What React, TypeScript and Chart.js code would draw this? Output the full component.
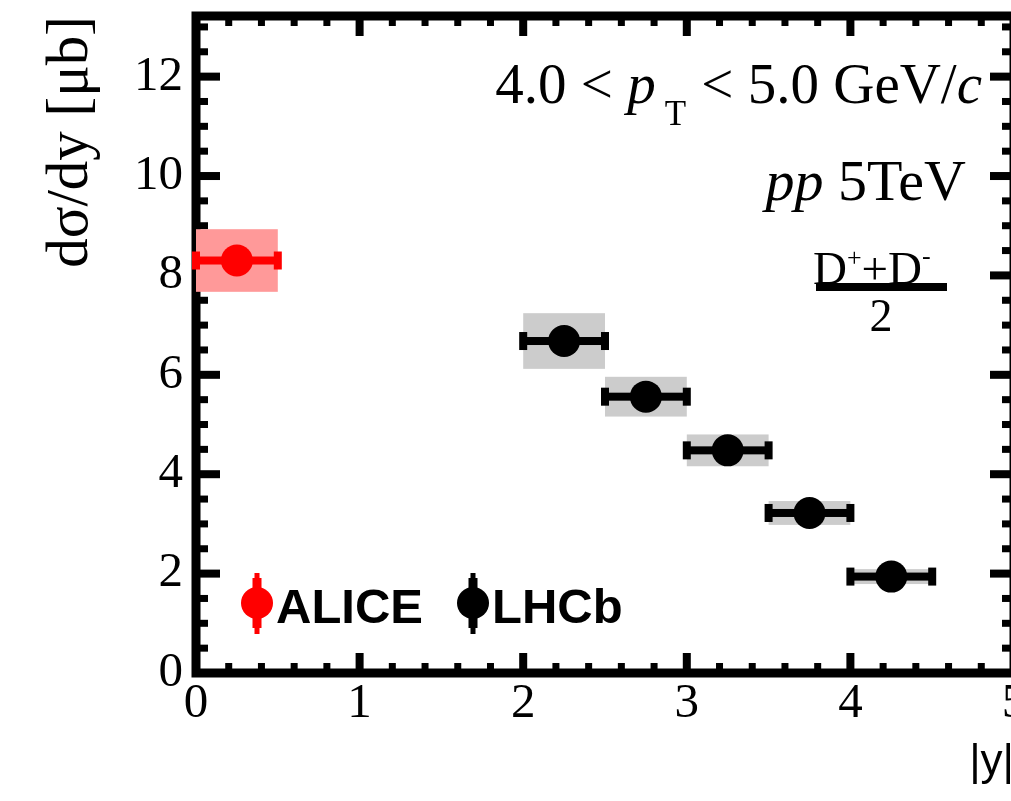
import { useEffect, useRef } from 'react';
import { Chart, registerables } from 'chart.js';

Chart.register(...registerables);

const SERIF = "'Liberation Serif', 'Times New Roman', serif";
const SANS = "'Liberation Sans', Arial, sans-serif";

// ---- data ----
const aliceRapidity = [0.25];
const aliceCrossSection = [8.3];
const aliceBinHalfWidth = [0.25];
const aliceSystErr = [0.63];

const lhcbRapidity = [2.25, 2.75, 3.25, 3.75, 4.25];
const lhcbCrossSection = [6.68, 5.56, 4.48, 3.22, 1.94];
const lhcbBinHalfWidth = [0.25, 0.25, 0.25, 0.25, 0.25];
const lhcbSystErr = [0.56, 0.4, 0.32, 0.24, 0.15];

const xMajorTicks = [0, 1, 2, 3, 4, 5];
const xMinorTicks = [0.2, 0.4, 0.6, 0.8, 1.2, 1.4, 1.6, 1.8, 2.2, 2.4, 2.6, 2.8, 3.2, 3.4, 3.6, 3.8, 4.2, 4.4, 4.6, 4.8];
const yMajorTicks = [0, 2, 4, 6, 8, 10, 12];
const yMinorTicks = [0.5, 1, 1.5, 2.5, 3, 3.5, 4.5, 5, 5.5, 6.5, 7, 7.5, 8.5, 9, 9.5, 10.5, 11, 11.5, 12.5, 13];

const X_MIN = 0;
const X_MAX = 5;
const Y_MIN = 0;
const Y_MAX = 13.22;

const ALICE_COLOR = '#ff0000';
const ALICE_BOX = '#ff9999';
const LHCB_COLOR = '#000000';
const LHCB_BOX = '#cccccc';

type Run = { text: string; font: string; dy?: number; gap?: number };

function drawRuns(ctx: CanvasRenderingContext2D, runs: Run[], x: number, baseline: number, align: 'left' | 'right') {
  let total = 0;
  const widths = runs.map((r) => {
    ctx.font = r.font;
    const w = ctx.measureText(r.text).width;
    total += w + (r.gap || 0);
    return w;
  });
  let cx = align === 'right' ? x - total : x;
  ctx.textAlign = 'left';
  ctx.textBaseline = 'alphabetic';
  runs.forEach((r, i) => {
    cx += r.gap || 0;
    ctx.font = r.font;
    ctx.fillText(r.text, cx, baseline + (r.dy || 0));
    cx += widths[i];
  });
}

export default function App() {
  const ref = useRef<HTMLCanvasElement>(null);

  useEffect(() => {
    const canvas = ref.current;
    if (!canvas) return;

    const series = [
      { xs: aliceRapidity, ys: aliceCrossSection, hw: aliceBinHalfWidth, sys: aliceSystErr, color: ALICE_COLOR, box: ALICE_BOX },
      { xs: lhcbRapidity, ys: lhcbCrossSection, hw: lhcbBinHalfWidth, sys: lhcbSystErr, color: LHCB_COLOR, box: LHCB_BOX },
    ];

    const hepPlugin = {
      id: 'hepDecor',
      beforeDatasetsDraw(chart: any) {
        const { ctx, chartArea: a, scales } = chart;
        const xs = scales.x;
        const ys = scales.y;
        ctx.save();
        // frame
        ctx.strokeStyle = '#000';
        ctx.lineWidth = 9;
        ctx.strokeRect(a.left, a.top, a.right - a.left, a.bottom - a.top);
        ctx.fillStyle = '#000';
        // y ticks (left & right, inward)
        yMajorTicks.forEach((v) => {
          const p = ys.getPixelForValue(v);
          ctx.fillRect(a.left, p - 4, 24, 8);
          ctx.fillRect(a.right - 24, p - 4, 24, 8);
        });
        yMinorTicks.forEach((v) => {
          const p = ys.getPixelForValue(v);
          ctx.fillRect(a.left, p - 3.5, 12, 7);
          ctx.fillRect(a.right - 12, p - 3.5, 12, 7);
        });
        // x ticks (bottom & top, inward)
        xMajorTicks.forEach((v) => {
          const p = xs.getPixelForValue(v);
          ctx.fillRect(p - 4, a.bottom - 20, 8, 20);
          ctx.fillRect(p - 4, a.top, 8, 20);
        });
        xMinorTicks.forEach((v) => {
          const p = xs.getPixelForValue(v);
          ctx.fillRect(p - 3.5, a.bottom - 10, 7, 10);
          ctx.fillRect(p - 3.5, a.top, 7, 10);
        });
        // systematic boxes
        series.forEach((s) => {
          ctx.fillStyle = s.box;
          s.xs.forEach((x, i) => {
            const l = xs.getPixelForValue(x - s.hw[i]);
            const r = xs.getPixelForValue(x + s.hw[i]);
            const t = ys.getPixelForValue(s.ys[i] + s.sys[i]);
            const b = ys.getPixelForValue(s.ys[i] - s.sys[i]);
            ctx.fillRect(l, t, r - l, b - t);
          });
        });
        // horizontal error bars with caps
        series.forEach((s) => {
          ctx.fillStyle = s.color;
          s.xs.forEach((x, i) => {
            const l = xs.getPixelForValue(x - s.hw[i]);
            const r = xs.getPixelForValue(x + s.hw[i]);
            const py = ys.getPixelForValue(s.ys[i]);
            ctx.fillRect(l, py - 4, r - l, 8);
            ctx.fillRect(l - 4, py - 9, 8, 18);
            ctx.fillRect(r - 4, py - 9, 8, 18);
          });
        });
        ctx.restore();
      },
      afterDatasetsDraw(chart: any) {
        const { ctx, chartArea: a } = chart;
        ctx.save();
        ctx.fillStyle = '#000';
        // kinematic label
        drawRuns(
          ctx,
          [
            { text: '4.0 < ', font: `57px ${SERIF}` },
            { text: 'p', font: `italic 57px ${SERIF}` },
            { text: 'T', font: `35px ${SERIF}`, dy: 22, gap: 9 },
            { text: ' < 5.0 GeV/', font: `57px ${SERIF}`, gap: 1 },
            { text: 'c', font: `italic 57px ${SERIF}` },
          ],
          982,
          103,
          'right'
        );
        drawRuns(
          ctx,
          [
            { text: 'pp', font: `italic 58px ${SERIF}` },
            { text: ' 5TeV', font: `58px ${SERIF}` },
          ],
          966,
          200,
          'right'
        );
        // (D+ + D-)/2
        drawRuns(
          ctx,
          [
            { text: 'D', font: `47px ${SERIF}` },
            { text: '+', font: `26px ${SERIF}`, dy: -18 },
            { text: '+', font: `47px ${SERIF}` },
            { text: 'D', font: `47px ${SERIF}` },
            { text: '-', font: `26px ${SERIF}`, dy: -20 },
          ],
          813,
          284,
          'left'
        );
        ctx.fillRect(816, 283, 131, 8);
        ctx.font = `46px ${SERIF}`;
        ctx.textAlign = 'center';
        ctx.fillText('2', 881, 331);

        // legend
        const legendItems = [
          { label: 'ALICE', color: ALICE_COLOR, x: a.left + 61 },
          { label: 'LHCb', color: LHCB_COLOR, x: a.left + 277 },
        ];
        const ly = a.bottom - 70;
        legendItems.forEach((it) => {
          ctx.fillStyle = it.color;
          ctx.fillRect(it.x - 2.5, ly - 30, 5, 61);
          ctx.fillRect(it.x - 4.5, ly - 25, 9, 50);
          ctx.beginPath();
          ctx.arc(it.x, ly, 16, 0, Math.PI * 2);
          ctx.fill();
          ctx.fillStyle = '#000';
          ctx.font = `bold 49px ${SANS}`;
          ctx.textAlign = 'left';
          ctx.textBaseline = 'alphabetic';
          ctx.fillText(it.label, it.x + 19, ly + 20);
        });
        ctx.restore();
      },
    };

    const chart = new Chart(canvas, {
      type: 'scatter',
      data: {
        datasets: [
          {
            label: 'ALICE',
            data: aliceRapidity.map((x, i) => ({ x, y: aliceCrossSection[i] })),
            backgroundColor: ALICE_COLOR,
            borderColor: ALICE_COLOR,
            borderWidth: 0,
            pointRadius: 16,
            pointHoverRadius: 16,
          },
          {
            label: 'LHCb',
            data: lhcbRapidity.map((x, i) => ({ x, y: lhcbCrossSection[i] })),
            backgroundColor: LHCB_COLOR,
            borderColor: LHCB_COLOR,
            borderWidth: 0,
            pointRadius: 16,
            pointHoverRadius: 16,
          },
        ],
      },
      options: {
        animation: false,
        responsive: false,
        events: [],
        layout: { padding: { left: 0, top: 16, right: 15, bottom: 0 } },
        plugins: { legend: { display: false }, tooltip: { enabled: false } },
        scales: {
          x: {
            type: 'linear',
            position: 'bottom',
            min: X_MIN,
            max: X_MAX,
            grid: { display: false, drawTicks: false, tickLength: 0 },
            border: { display: false },
            ticks: {
              stepSize: 1,
              includeBounds: false,
              autoSkip: false,
              maxRotation: 0,
              color: '#000',
              padding: 7,
              font: { family: SERIF, size: 49, lineHeight: 1 },
            },
            title: {
              display: true,
              text: '|y|',
              align: 'end',
              color: '#000',
              font: { family: SANS, size: 44, lineHeight: 1 },
              padding: { top: 0, bottom: 16 },
            },
            afterFit(s: any) {
              s.height = 128;
              s.paddingLeft = 0;
              s.paddingRight = 0;
            },
          },
          y: {
            type: 'linear',
            position: 'left',
            min: Y_MIN,
            max: Y_MAX,
            grid: { display: false, drawTicks: false, tickLength: 0 },
            border: { display: false },
            ticks: {
              stepSize: 2,
              includeBounds: false,
              autoSkip: false,
              color: '#000',
              padding: 13,
              font: { family: SERIF, size: 49, lineHeight: 1 },
            },
            title: {
              display: true,
              text: 'dσ/dy [μb]',
              align: 'end',
              color: '#000',
              font: { family: SERIF, size: 59, lineHeight: 1.2 },
              padding: { top: 36, bottom: 0 },
            },
            afterFit(s: any) {
              s.width = 196;
              s.paddingTop = 0;
              s.paddingBottom = 0;
            },
          },
        },
      } as any,
      plugins: [hepPlugin],
    });

    return () => chart.destroy();
  }, []);

  return (
    <div style={{ position: 'fixed', left: 0, top: 0, width: 1011, height: 801, overflow: 'hidden', background: '#fff' }}>
      <canvas ref={ref} width={1030} height={801} style={{ display: 'block', width: 1030, height: 801 }} />
    </div>
  );
}
